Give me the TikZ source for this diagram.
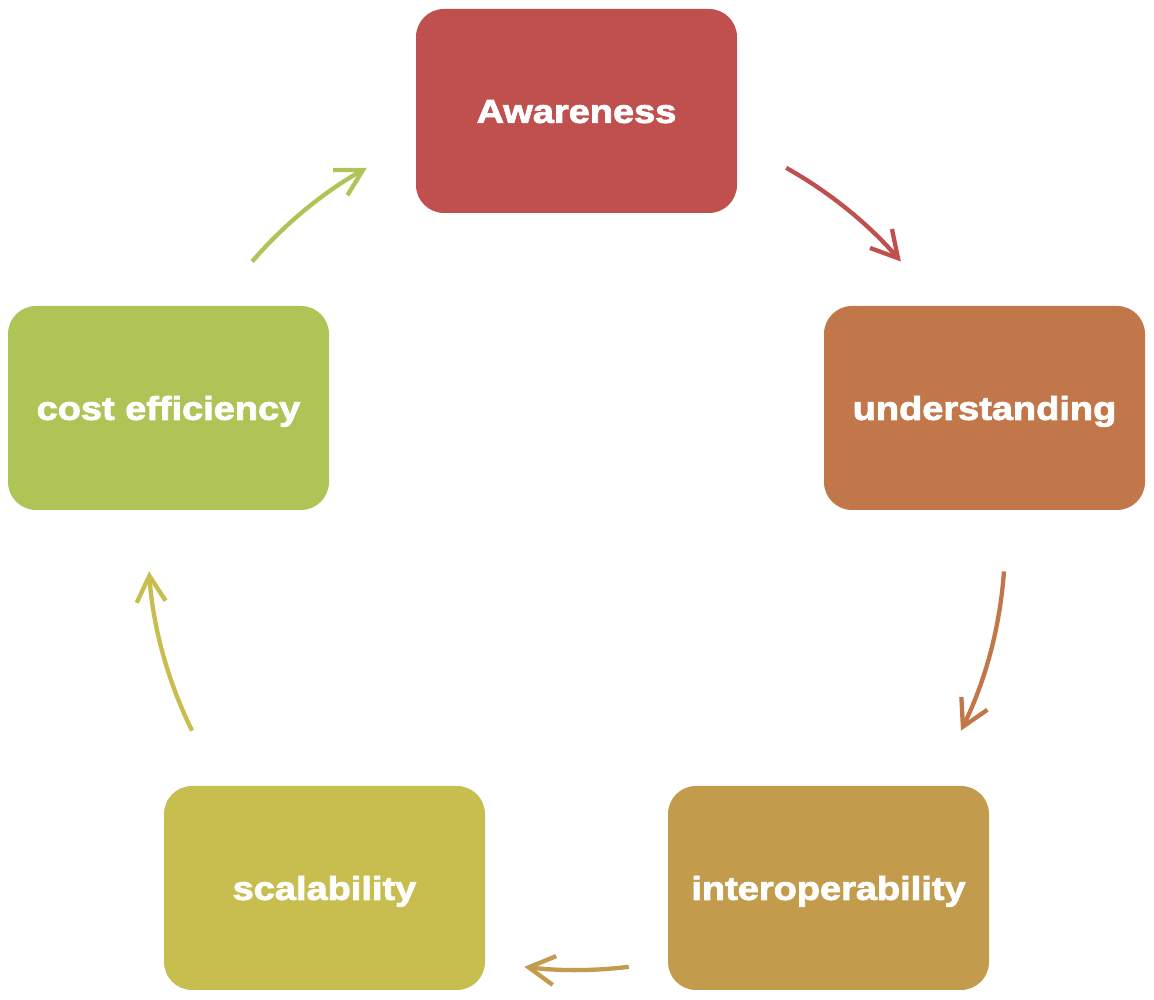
\documentclass[tikz,border=0pt]{standalone}
\usepackage{fontspec}
\newfontfamily\boxfont[FakeStretch=1.15,FakeBold=2.5,Ligatures=CommonOff]{Liberation Sans Bold}
\usetikzlibrary{arrows.meta}

\definecolor{cRed}{RGB}{192,80,77}
\definecolor{cOrange}{RGB}{193,119,74}
\definecolor{cGold}{RGB}{195,155,77}
\definecolor{cYellow}{RGB}{199,190,79}
\definecolor{cGreen}{RGB}{174,196,86}

\begin{document}
\begin{tikzpicture}[x=1pt,y=1pt,
  stage/.style={rounded corners=28pt, minimum width=321pt, minimum height=204pt,
    inner sep=0pt, text=white, font=\boxfont\fontsize{33pt}{40pt}\selectfont,
    text height=23.7pt, text depth=0pt},
  cyc/.style={line width=4.3pt, -{Straight Barb[length=26pt,width=29pt]}}
]
\useasboundingbox (0,0) rectangle (1154,1000);
\fill[white] (0,0) rectangle (1154,1000);

% centre of the cycle and radius of the connecting arcs
\coordinate (c) at (576.5,458.5);
\def\R{428.5}

% stages
\node[stage, fill=cRed]    (aw) at (576.5,889) {Awareness};
\node[stage, fill=cOrange] (un) at (984.5,592) {understanding};
\node[stage, fill=cGold]   (io) at (828.5,112) {interoperability};
\node[stage, fill=cYellow] (sc) at (324.5,112) {scalability};
\node[stage, fill=cGreen]  (ce) at (168.5,592) {cost efficiency};

% arcs of the cycle
\draw[cyc, cRed]    ([shift={(60.7:\R)}]c)   arc[start angle=60.7,   end angle=40.8,   radius=\R];
\draw[cyc, cOrange] ([shift={(-4:\R)}]c)     arc[start angle=-4,     end angle=-26.2,  radius=\R];
\draw[cyc, cGold]   ([shift={(-83:\R)}]c)    arc[start angle=-83,    end angle=-97,    radius=\R];
\draw[cyc, cYellow] ([shift={(-153.8:\R)}]c) arc[start angle=-153.8, end angle=-176,   radius=\R];
\draw[cyc, cGreen]  ([shift={(139.2:\R)}]c)  arc[start angle=139.2,  end angle=119.3,  radius=\R];
\end{tikzpicture}
\end{document}
